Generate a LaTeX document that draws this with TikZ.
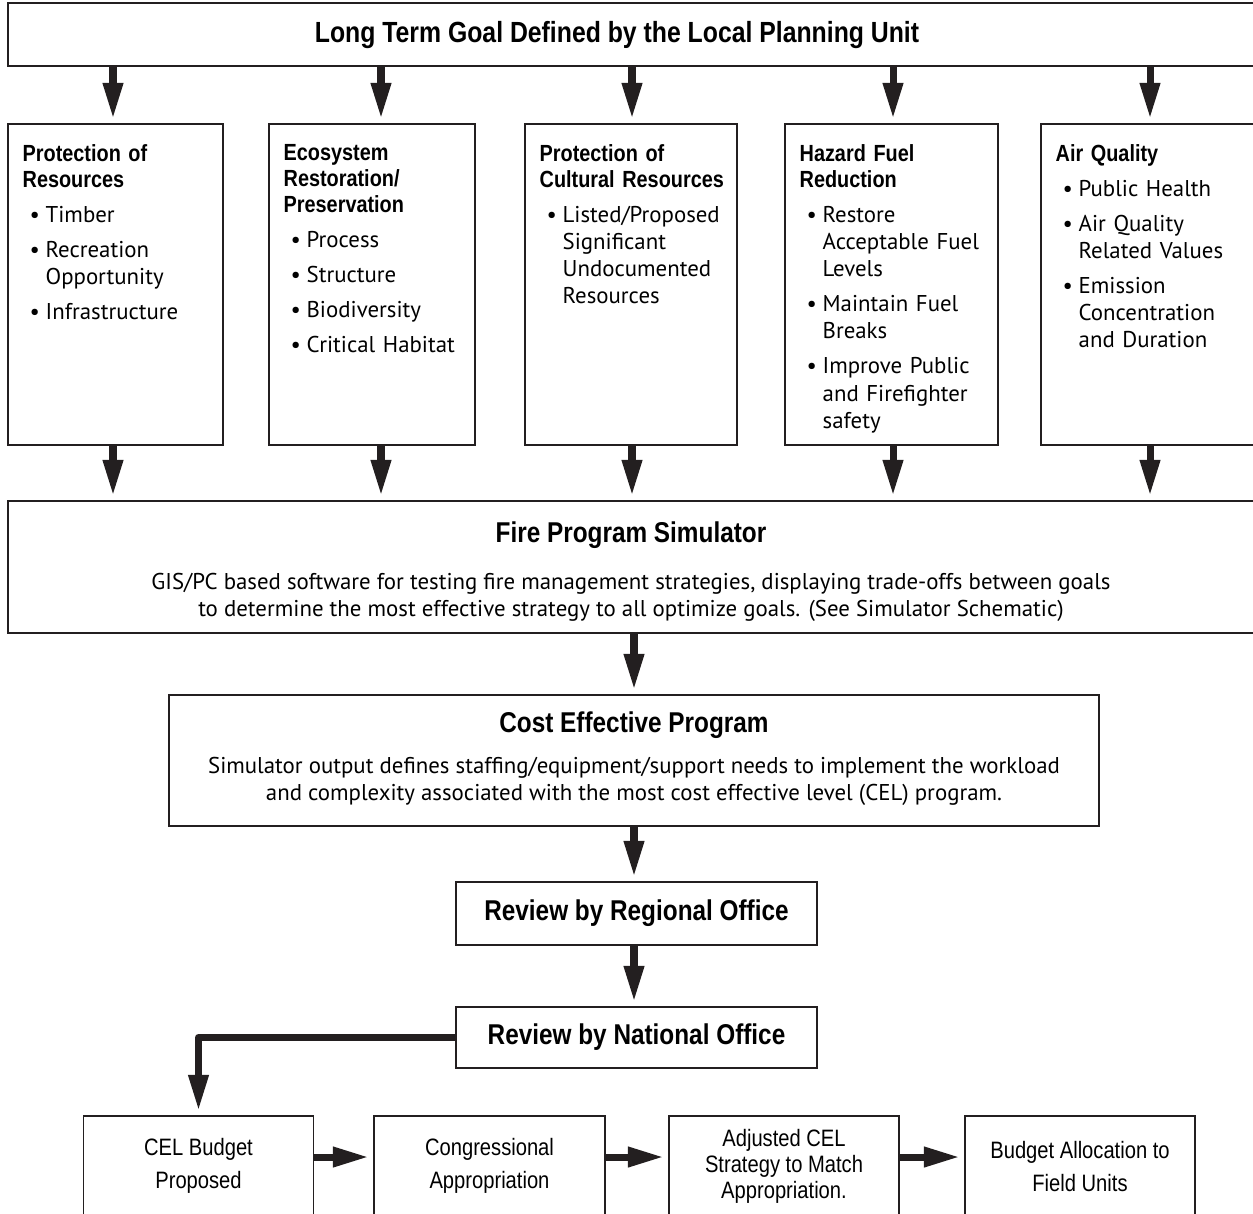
\documentclass[tikz,border=0pt]{standalone}
\usepackage{fontspec}
\setmainfont{PT Sans}
\newfontfamily\headfont{Liberation Sans}[FakeStretch=0.85]
\newfontfamily\condfont{Liberation Sans}[FakeStretch=0.85]
\usetikzlibrary{arrows.meta, calc, positioning}

\definecolor{inkgray}{HTML}{231F20}

\newcommand{\goalhead}[1]{{\headfont\bfseries\fontsize{13.3}{14.8}\selectfont #1\par}}
\newcommand{\goalitem}[1]{\par\vspace{0.16cm}\noindent\hspace*{0.14cm}\makebox[0.32cm][l]{\textbullet}\parbox[t]{3.4cm}{#1\strut}\par\prevdepth=\dp\strutbox}
\newcommand{\stagehead}[1]{{\headfont\bfseries\fontsize{16.3}{18}\selectfont #1}}

\begin{document}
\begin{tikzpicture}[x=0.02cm, y=-0.02cm,
  box/.style={draw=inkgray, line width=0.8pt, inner sep=0pt},
  flow/.style={draw=inkgray, line width=4pt, -{Triangle[length=0.72cm, width=0.38cm]}, shorten >=0.09cm},
  goaltext/.style={anchor=north west, inner sep=0pt, text width=#1, font=\fontsize{13}{15.4}\selectfont},
  stagetext/.style={align=center, inner sep=0pt, font=\fontsize{13}{15.4}\selectfont},
  steptext/.style={align=center, inner sep=0pt, font=\condfont\fontsize{13.5}{18.8}\selectfont}]
\useasboundingbox (0,0) rectangle (1253,1213);
\clip (0,0) rectangle (1253,1213);

% goal on top
\node[box, minimum width=25.24cm, minimum height=1.26cm] (goal) at (639,34.5) {};
\node[inner sep=0pt, font=\headfont\bfseries\fontsize{16.6}{18}\selectfont] (goal-t) at (617,35)
  {Long Term Goal Defined by the Local Planning Unit};

% the five goals
\node[box, minimum width=4.3cm, minimum height=6.42cm] (prot) at (115.5,284.5) {};
\node[box, minimum width=4.12cm, minimum height=6.42cm] (eco) at (372,284.5) {};
\node[box, minimum width=4.24cm, minimum height=6.42cm] (cult) at (631,284.5) {};
\node[box, minimum width=4.26cm, minimum height=6.42cm] (haz) at (891.5,284.5) {};
\node[box, minimum width=4.58cm, minimum height=6.42cm] (air) at (1155.5,284.5) {};

\node[goaltext=3.8cm] (prot-t) at ($(prot.north west)+(15,21)$)
  {\goalhead{Protection of\\Resources}\goalitem{Timber}\goalitem{Recreation\\Opportunity}\goalitem{Infrastructure}};
\node[goaltext=3.7cm] (eco-t) at ($(eco.north west)+(15,21)$)
  {\goalhead{Ecosystem\\Restoration/\\Preservation}\goalitem{Process}\goalitem{Structure}\goalitem{Biodiversity}\goalitem{Critical Habitat}};
\node[goaltext=3.8cm] (cult-t) at ($(cult.north west)+(15,21)$)
  {\goalhead{Protection of\\Cultural Resources}\goalitem{Listed/Proposed\\Significant\\Undocumented\\Resources}};
\node[goaltext=3.8cm] (haz-t) at ($(haz.north west)+(15,21)$)
  {\goalhead{Hazard Fuel\\Reduction}\goalitem{Restore\\Acceptable Fuel\\Levels}\goalitem{Maintain Fuel\\Breaks}\goalitem{Improve Public\\and Firefighter\\safety}};
\node[goaltext=3.8cm] (air-t) at ($(air.north west)+(15,21)$)
  {\goalhead{Air Quality}\goalitem{Public Health}\goalitem{Air Quality\\Related Values}\goalitem{Emission\\Concentration\\and Duration}};

% simulator and program
\node[box, minimum width=25.24cm, minimum height=2.64cm] (sim) at (639,567) {};
\node[stagetext] (sim-t) at (631,571.5)
  {\stagehead{Fire Program Simulator}\\[0.4cm]
   GIS/PC based software for testing fire management strategies, displaying trade-offs between goals\\
   to determine the most effective strategy to all optimize goals. (See Simulator Schematic)};

\node[box, minimum width=18.6cm, minimum height=2.62cm] (cel) at (634,760.5) {};
\node[stagetext] (cel-t) at (634,758.5)
  {\stagehead{Cost Effective Program}\\[0.28cm]
   Simulator output defines staffing/equipment/support needs to implement the workload\\
   and complexity associated with the most cost effective level (CEL) program.};

\node[box, minimum width=7.22cm, minimum height=1.26cm] (regional) at (636.5,913.5)
  {\stagehead{Review by Regional Office}};
\node[box, minimum width=7.22cm, minimum height=1.22cm] (national) at (636.5,1037.5)
  {\stagehead{Review by National Office}};

% budget steps
\node[box, minimum width=4.6cm, minimum height=2.48cm] (budget) at (198.5,1178) {};
\node[box, minimum width=4.62cm, minimum height=2.48cm] (congress) at (489.5,1178) {};
\node[box, minimum width=4.6cm, minimum height=2.48cm] (adjust) at (784,1178) {};
\node[box, minimum width=4.6cm, minimum height=2.48cm] (alloc) at (1080,1178) {};
\node[steptext] (budget-t) at ($(budget.north)+(0,51)$) {CEL Budget\\Proposed};
\node[steptext] (congress-t) at ($(congress.north)+(0,51)$) {Congressional\\Appropriation};
\node[steptext, font=\condfont\fontsize{13.5}{14.9}\selectfont] (adjust-t) at ($(adjust.north)+(0,51)$)
  {Adjusted CEL\\Strategy to Match\\Appropriation.};
\node[steptext] (alloc-t) at ($(alloc.north)+(0,51)$) {Budget Allocation to\\Field Units};

% arrows
\foreach \g/\c in {prot/113, eco/381, cult/632, haz/893, air/1150} {
  \coordinate (col-\g) at (\c,0);
  \draw[flow] (goal.south -| col-\g) -- (\g.north -| col-\g);
  \draw[flow] (\g.south -| col-\g) -- (sim.north -| col-\g);
}
\draw[flow] (sim.south -| cel.north) -- (cel.north);
\draw[flow] (cel.south) -- (cel.south |- regional.north);
\draw[flow] (cel.south |- regional.south) -- (cel.south |- national.north);
\draw[flow, line join=round] (national.west) -| (budget.north);
\draw[flow] ([yshift=0.42cm]budget.east) -- ([yshift=0.42cm]congress.west);
\draw[flow] ([yshift=0.42cm]congress.east) -- ([yshift=0.42cm]adjust.west);
\draw[flow] ([yshift=0.42cm]adjust.east) -- ([yshift=0.42cm]alloc.west);
\end{tikzpicture}
\end{document}
